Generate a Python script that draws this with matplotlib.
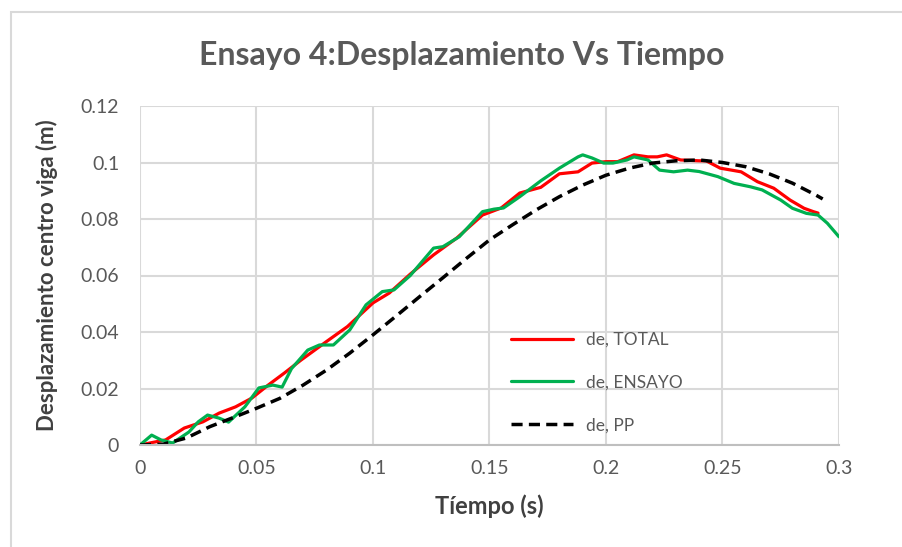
import matplotlib
matplotlib.use("Agg")
import matplotlib.pyplot as plt
from matplotlib.patches import Rectangle

plt.rcParams['font.family'] = ['Lato', 'DejaVu Sans']

# ---- data ----
total_t = [0, 0.006, 0.011, 0.019, 0.027, 0.034, 0.041, 0.048, 0.055, 0.062, 0.069,
           0.080, 0.089, 0.100, 0.107, 0.116, 0.126, 0.136, 0.147, 0.155, 0.163,
           0.172, 0.180, 0.188, 0.194, 0.200, 0.205, 0.212, 0.218, 0.222, 0.226,
           0.232, 0.240, 0.243, 0.249, 0.258, 0.265, 0.272, 0.279, 0.285, 0.289, 0.291]
total_d = [0, 0.0010, 0.0018, 0.0060, 0.0082, 0.0113, 0.0135, 0.0166, 0.0212, 0.0255, 0.0300,
           0.0366, 0.0419, 0.0503, 0.0538, 0.0605, 0.0673, 0.0733, 0.0814, 0.0839, 0.0892,
           0.0912, 0.0960, 0.0967, 0.0998, 0.1003, 0.1003, 0.1027, 0.1020, 0.1020, 0.1027,
           0.1009, 0.1006, 0.1006, 0.0980, 0.0967, 0.0932, 0.0909, 0.0867, 0.0838, 0.0826, 0.0821]

ensayo_t = [0, 0.005, 0.009, 0.014, 0.021, 0.025, 0.029, 0.034, 0.038, 0.045, 0.051,
            0.057, 0.061, 0.065, 0.072, 0.077, 0.083, 0.090, 0.097, 0.104, 0.109,
            0.116, 0.126, 0.130, 0.137, 0.147, 0.152, 0.156, 0.163, 0.172, 0.180,
            0.188, 0.190, 0.194, 0.199, 0.203, 0.209, 0.212, 0.218, 0.223, 0.229,
            0.235, 0.240, 0.248, 0.255, 0.262, 0.267, 0.275, 0.280, 0.286, 0.291,
            0.295, 0.300]
ensayo_d = [0, 0.0035, 0.0018, 0.0007, 0.0046, 0.0082, 0.0106, 0.0095, 0.0081, 0.0135, 0.0202,
            0.0212, 0.0205, 0.0270, 0.0336, 0.0354, 0.0354, 0.0407, 0.0496, 0.0543, 0.0549,
            0.0600, 0.0697, 0.0702, 0.0737, 0.0826, 0.0835, 0.0839, 0.0879, 0.0935, 0.0980,
            0.1020, 0.1027, 0.1016, 0.0998, 0.0998, 0.1009, 0.1020, 0.1009, 0.0973, 0.0967,
            0.0973, 0.0968, 0.0950, 0.0926, 0.0914, 0.0903, 0.0867, 0.0838, 0.0820, 0.0814,
            0.0785, 0.0737]

pp_t = [0, 0.01, 0.02, 0.03, 0.04, 0.05, 0.06, 0.07, 0.08, 0.09, 0.10, 0.11, 0.12,
        0.13, 0.14, 0.15, 0.16, 0.17, 0.18, 0.19, 0.20, 0.21, 0.22, 0.23, 0.24,
        0.25, 0.26, 0.27, 0.28, 0.29, 0.293]
pp_d = [0, 0.0003, 0.0025, 0.0065, 0.0097, 0.0130, 0.0165, 0.0212, 0.0265, 0.0325,
        0.0390, 0.0457, 0.0525, 0.0592, 0.0660, 0.0726, 0.0780, 0.0832, 0.0879, 0.0920,
        0.0955, 0.0980, 0.0998, 0.1006, 0.1009, 0.1000, 0.0985, 0.0960, 0.0927, 0.0885, 0.0871]

x_ticks = [0, 0.05, 0.1, 0.15, 0.2, 0.25, 0.3]
x_tick_labels = ['0', '0.05', '0.1', '0.15', '0.2', '0.25', '0.3']
y_ticks = [0, 0.02, 0.04, 0.06, 0.08, 0.1, 0.12]
y_tick_labels = ['0', '0.02', '0.04', '0.06', '0.08', '0.1', '0.12']

series_names = ['de, TOTAL', 'de, ENSAYO', 'de, PP']
title = 'Ensayo 4:Desplazamiento Vs Tiempo'
x_label = 'Tíempo (s)'
y_label = 'Desplazamiento centro viga (m)'

# ---- figure ----
W, H = 903, 547
fig = plt.figure(figsize=(W / 100, H / 100), dpi=100)
fig.patch.set_facecolor('white')

# outer chart frame (cropped)
fig.add_artist(Rectangle((11 / W, -0.1), 1.2, 1 - 12 / H + 0.1, transform=fig.transFigure,
                         fill=False, edgecolor='#D9D9D9', linewidth=1.5))

ax = fig.add_axes([140 / W, 1 - 445 / H, (839 - 140) / W, (445 - 106) / H])
ax.set_xlim(0, 0.3)
ax.set_ylim(0, 0.12)

grid_c = '#D9D9D9'
ax.set_xticks(x_ticks)
ax.set_xticklabels(x_tick_labels)
ax.set_yticks(y_ticks)
ax.set_yticklabels(y_tick_labels)
ax.grid(True, color=grid_c, linewidth=1.5)
ax.set_axisbelow(True)
for s in ['top', 'right', 'left']:
    ax.spines[s].set_visible(False)
ax.spines['bottom'].set_color('#BFBFBF')
ax.spines['bottom'].set_linewidth(1.5)
ax.tick_params(length=0, labelsize=14, labelcolor='#595959')
ax.tick_params(axis='x', pad=11)
ax.tick_params(axis='y', pad=15)

ax.plot(total_t, total_d, color='#FF0000', linewidth=2.3, label=series_names[0],
        solid_joinstyle='round', solid_capstyle='round')
ax.plot(ensayo_t, ensayo_d, color='#00B050', linewidth=2.3, label=series_names[1],
        solid_joinstyle='round', solid_capstyle='round')
ax.plot(pp_t, pp_d, color='black', linewidth=2.5, linestyle=(0, (3.2, 1.8)),
        label=series_names[2])

leg = ax.legend(loc='lower left', bbox_to_anchor=(355 / 699, -0.012), frameon=False,
                fontsize=12.5, labelspacing=1.55, handlelength=3.6, handletextpad=0.75,
                labelcolor='#595959')

ax.set_xlabel(x_label, fontsize=17, fontweight='bold', color='#404040', labelpad=12)
ax.set_ylabel(y_label, fontsize=16, fontweight='bold', color='#404040', labelpad=16)

fig.text(462 / W, 1 - 55 / H, title, ha='center', va='center', fontsize=23,
         fontweight='bold', color='#595959')

fig.savefig('out.png', dpi=100, facecolor='white')
